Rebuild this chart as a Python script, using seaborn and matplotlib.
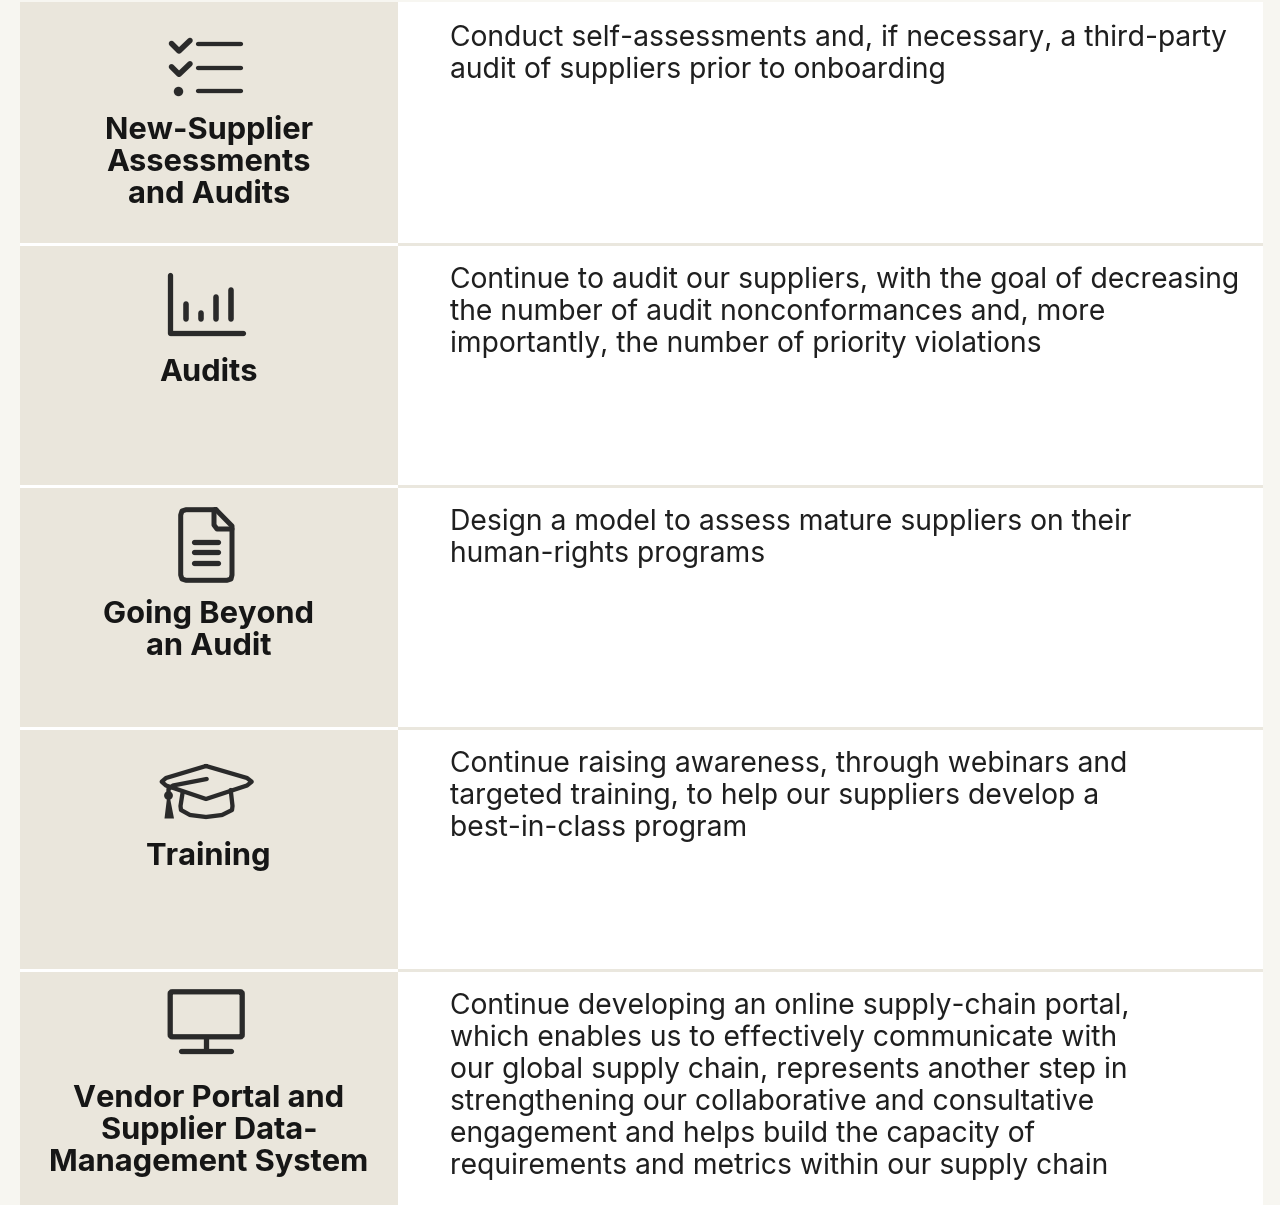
import matplotlib
matplotlib.use("Agg")
import matplotlib.pyplot as plt
import seaborn as sns
import pandas as pd
from matplotlib.patches import FancyBboxPatch, Polygon

# -----------------------------
# Table content
# -----------------------------
row_tops = [3, 245, 487, 729, 971]
row_height = 239.6

row_titles = [
    ["New-Supplier", "Assessments", "and Audits"],
    ["Audits"],
    ["Going Beyond", "an Audit"],
    ["Training"],
    ["Vendor Portal and", "Supplier Data-", "Management System"],
]
row_texts = [
    ["Conduct self-assessments and, if necessary, a third-party",
     "audit of suppliers prior to onboarding"],
    ["Continue to audit our suppliers, with the goal of decreasing",
     "the number of audit nonconformances and, more",
     "importantly, the number of priority violations"],
    ["Design a model to assess mature suppliers on their",
     "human-rights programs"],
    ["Continue raising awareness, through webinars and",
     "targeted training, to help our suppliers develop a",
     "best-in-class program"],
    ["Continue developing an online supply-chain portal,",
     "which enables us to effectively communicate with",
     "our global supply chain, represents another step in",
     "strengthening our collaborative and consultative",
     "engagement and helps build the capacity of",
     "requirements and metrics within our supply chain"],
]

PAGE = "#f7f6f1"
BEIGE = "#eae6dc"
RULE = "#eae7de"
INK = "#2a2a2a"
TITLE_INK = "#161616"
BODY_INK = "#1f1f1f"
FONT = "Inter"

sns.set_theme(style="white")
plt.rcParams["font.family"] = [FONT, "DejaVu Sans"]

fig = plt.figure(figsize=(12.8, 12.05), dpi=100, facecolor=PAGE)
# axes start at the table's left edge so bars can grow from x=0
ax = fig.add_axes([20 / 1280, 0, 1243 / 1280, 1])
ax.patch.set_alpha(0)
ax.set_xlim(0, 1243)
ax.set_ylim(1205, 0)
ax.axis("off")


# -----------------------------
# Table cells
# -----------------------------
def draw_cells():
    centers = [t + 0.8 + row_height / 2 for t in row_tops]
    # light rule behind everything
    ax.axhspan(0, 1205, color=RULE, lw=0, zorder=0)
    ax.axhspan(0, 2, color=PAGE, lw=0, zorder=0.5)
    df = pd.DataFrame({"center": centers, "full": 1243, "label": 378})
    rel = row_height / 242
    for col, color, z in [("full", "white", 1), ("label", BEIGE, 2)]:
        sns.barplot(data=df, x=col, y="center", orient="y", native_scale=True,
                    width=rel, color=color, saturation=1, linewidth=0,
                    ax=ax, zorder=z)
    ax.set_xlim(0, 1243)
    ax.set_ylim(1205, 0)
    # first row starts a little higher
    ax.fill_between([0, 1243], 2, 4, color="white", lw=0, zorder=1)
    ax.fill_between([0, 378], 2, 4, color=BEIGE, lw=0, zorder=2)
    # white gap between the label cells
    for t in row_tops[1:]:
        ax.fill_between([0, 378], t - 1.6, t + 0.8, color="white", lw=0, zorder=3)


# -----------------------------
# Icons (page pixels, shifted into axes)
# -----------------------------
def line(xs, ys, lw=3.0):
    ax.plot([x - 20 for x in xs], ys, color=INK, lw=lw, solid_capstyle="round",
            solid_joinstyle="round", zorder=5)


def draw_icons():
    # checklist
    for y in (44, 67.5, 91):
        line([198.5, 241.5], [y, y], 3.1)
    for y in (0, 23.3):
        line([171.5, 179, 190], [43.5 + y, 51 + y, 40.5 + y], 4.0)
    ax.scatter([178 - 20], [91], s=46, color=INK, lw=0, zorder=5)

    # bar chart
    line([170, 170, 243], [275, 333, 333], 3.8)
    for x, y in [(185.7, 303.6), (200.7, 312.6), (215.7, 296.6), (230.7, 289.6)]:
        line([x, x], [y, 319], 4.0)

    # document
    line([216, 186, 182, 180.7, 180.7, 182, 186, 227, 231, 232, 232, 216],
         [509.7, 509.7, 511, 515, 575, 579, 580.3, 580.3, 579, 575, 526, 509.7], 3.6)
    line([214, 214, 217, 232], [510, 525, 529, 529], 3.6)
    for y in (541.7, 552.3, 563):
        line([194.5, 218], [y, y], 3.8)

    # mortarboard
    line([206, 166, 161.7, 166, 206, 247, 251.7, 247, 206],
         [766, 778, 781.7, 785.5, 799, 785.5, 781.7, 778, 766], 3.1)
    line([206.7, 173, 168.5, 168.5], [779, 785.5, 789, 795], 3.1)
    line([182.7, 180.5, 181, 190, 206, 222, 232, 232.5, 230.7],
         [792, 806, 810, 815, 817, 815, 810, 806, 790], 3.1)
    ax.add_patch(Polygon([(147, 798), (150, 798), (154, 818.5), (144.5, 818.5)],
                         closed=True, color=INK, lw=0, zorder=5))
    ax.scatter([168.5 - 20], [795], s=40, color=INK, lw=0, zorder=5)

    # monitor
    ax.add_patch(FancyBboxPatch((150.2, 991.8), 72, 45, boxstyle="round,pad=0,rounding_size=2",
                                fc="none", ec=INK, lw=3.8, zorder=5))
    line([206, 206], [1038, 1050], 3.8)
    line([181.5, 230.8], [1050.7, 1050.7], 3.8)


# -----------------------------
# Text
# -----------------------------
def draw_text():
    for top, lines in zip(row_tops, row_titles):
        for i, txt in enumerate(lines):
            ax.text(189, top + 136 + i * 32, txt, ha="center", va="baseline",
                    fontsize=22.2, fontweight="bold", color=TITLE_INK, zorder=6)
    for top, lines in zip(row_tops, row_texts):
        for i, txt in enumerate(lines):
            ax.text(430, top + 43 + i * 32, txt, ha="left", va="baseline",
                    fontsize=20.35, color=BODY_INK, zorder=6)


if __name__ == "__main__":
    draw_cells()
    draw_icons()
    draw_text()
    fig.savefig("out.png", dpi=100, facecolor=PAGE)
